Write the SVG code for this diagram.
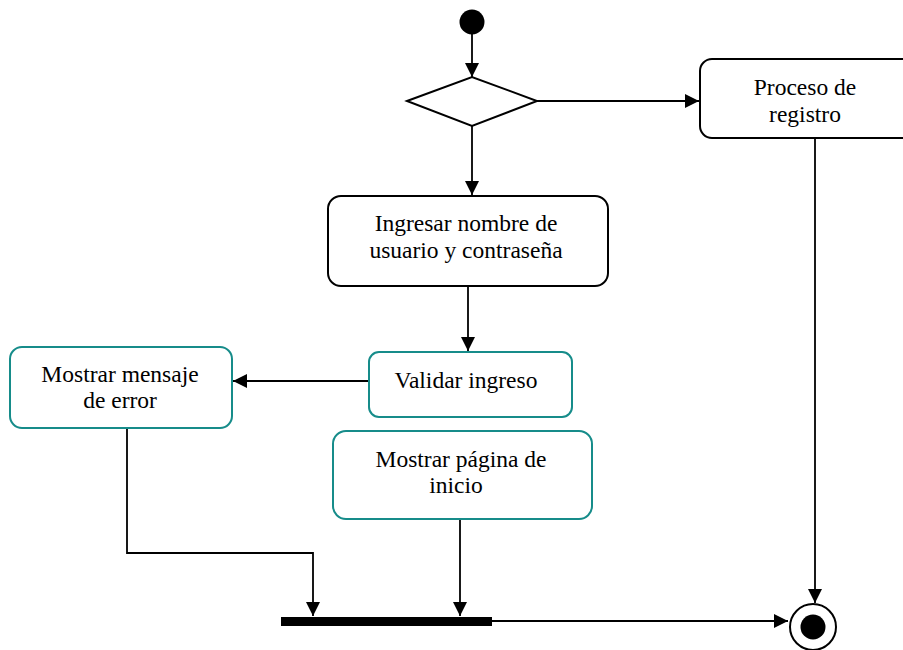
<svg xmlns="http://www.w3.org/2000/svg" width="903" height="650" viewBox="0 0 903 650">
<defs>
<marker id="arr" markerWidth="16" markerHeight="16" refX="14" refY="7" orient="auto" markerUnits="userSpaceOnUse">
<path d="M0,0 L14,7 L0,14 Z" fill="#000"/>
</marker>
<style>
.box{fill:#fff;stroke:#000;stroke-width:2}
.teal{fill:#fff;stroke:#168c8a;stroke-width:2}
.t{font-family:"Liberation Serif","Times New Roman",serif;font-size:23.5px;fill:#000;text-anchor:middle}
.c{fill:none;stroke:#000;stroke-width:1.8}
</style>
</defs>
<rect width="903" height="650" fill="#fff"/>
<g id="connectors">
<line class="c" x1="472" y1="34" x2="472" y2="77" marker-end="url(#arr)"/>
<line class="c" x1="537" y1="101" x2="699" y2="101" marker-end="url(#arr)"/>
<line class="c" x1="472" y1="126" x2="472" y2="195" marker-end="url(#arr)"/>
<line class="c" x1="468" y1="286" x2="468" y2="351" marker-end="url(#arr)"/>
<line class="c" x1="369" y1="381" x2="233" y2="381" marker-end="url(#arr)"/>
<polyline class="c" points="127,428 127,553 313,553 313,616" marker-end="url(#arr)"/>
<line class="c" x1="460" y1="520" x2="460" y2="616" marker-end="url(#arr)"/>
<line class="c" x1="492" y1="621" x2="788" y2="621" marker-end="url(#arr)"/>
<line class="c" x1="815" y1="138" x2="815" y2="603" marker-end="url(#arr)"/>
</g>
<g id="start"><circle cx="472" cy="22" r="12.5" fill="#000"/></g>
<g id="decision"><polygon points="407,101 472,77 537,101 472,126" fill="#fff" stroke="#000" stroke-width="2"/></g>
<g id="proceso">
<rect class="box" x="700" y="59" width="230" height="79" rx="12"/>
<text class="t" x="805" y="95">Proceso de</text>
<text class="t" x="805" y="122">registro</text>
</g>
<g id="ingresar">
<rect class="box" x="328" y="196" width="280" height="90" rx="13"/>
<text class="t" x="466" y="231">Ingresar nombre de</text>
<text class="t" x="466" y="258">usuario y contraseña</text>
</g>
<g id="validar">
<rect class="teal" x="369" y="352" width="203" height="65" rx="10"/>
<text class="t" x="466" y="388">Validar ingreso</text>
</g>
<g id="mensaje">
<rect class="teal" x="10" y="347" width="222" height="81" rx="12"/>
<text class="t" x="120" y="382">Mostrar mensaje</text>
<text class="t" x="120" y="408">de error</text>
</g>
<g id="pagina">
<rect class="teal" x="333" y="431" width="259" height="88" rx="13"/>
<text class="t" x="461" y="467">Mostrar página de</text>
<text class="t" x="456" y="493">inicio</text>
</g>
<g id="join"><rect x="281" y="617" width="211" height="9" fill="#000"/></g>
<g id="end">
<circle cx="813" cy="627" r="23" fill="#fff" stroke="#000" stroke-width="2"/>
<circle cx="813" cy="627" r="12.5" fill="#000"/>
</g>
</svg>
